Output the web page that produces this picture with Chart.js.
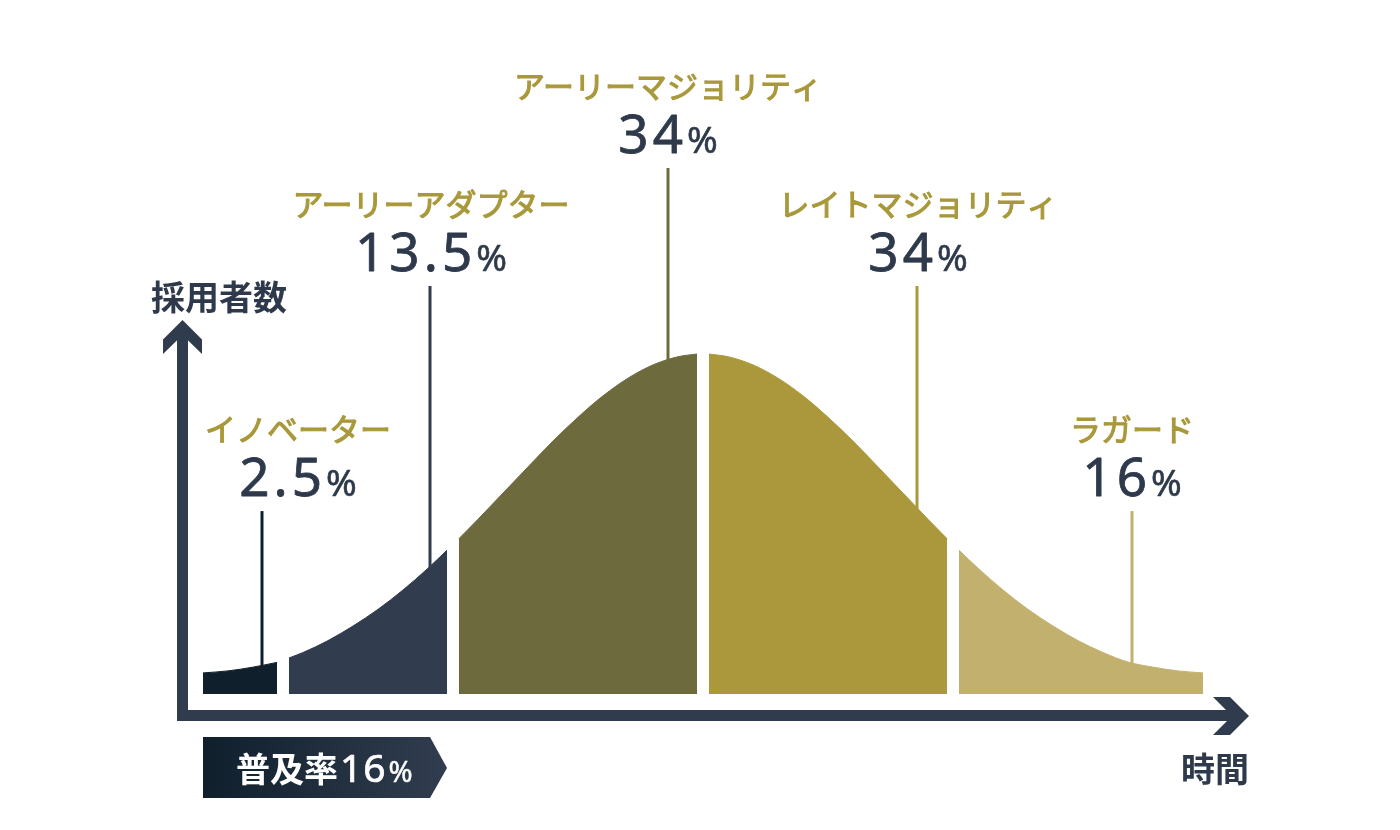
<!DOCTYPE html>
<html lang="ja">
<head>
<meta charset="utf-8">
<title>イノベーター理論</title>
<script src="https://cdn.jsdelivr.net/npm/chart.js@4.4.0/dist/chart.umd.min.js"></script>
<style>
  html, body { margin: 0; padding: 0; background: #fff; }
  #wrap { width: 1400px; height: 830px; }
</style>
</head>
<body>
<div id="wrap"><canvas id="curve" width="1400" height="830"></canvas></div>
<script>
// groups of adopters and their share
const categories = ['イノベーター', 'アーリーアダプター', 'アーリーマジョリティ', 'レイトマジョリティ', 'ラガード'];
const shares = ['2.5', '13.5', '34', '34', '16'];

// where each group starts / ends on the time axis (0 - 100)
const segmentStart = [0, 8.6, 25.6, 50.6, 75.6];
const segmentEnd = [7.4, 24.4, 49.4, 74.4, 100];

// curve, peak = 100
const timePoints = [
  0, 2.5, 5, 7.4,
  8.6, 10, 12.5, 15, 17.5, 20, 22.5, 24.4,
  25.6, 27.5, 30, 32.5, 35, 37.5, 40, 42.5, 45, 47.5, 49.4,
  50.6, 52.5, 55, 57.5, 60, 62.5, 65, 67.5, 70, 72.5, 74.4,
  75.6, 77.5, 80, 82.5, 85, 87.5, 90, 92.5, 95, 97.5, 100
];
const adopters = [
  6.2, 6.8, 7.9, 9.3,
  10.6, 12.2, 15.7, 20.0, 24.9, 30.6, 37.0, 42.3,
  45.7, 51.4, 59.1, 66.8, 74.4, 81.4, 87.7, 92.9, 96.8, 99.2, 100,
  100, 99.2, 96.8, 92.9, 87.7, 81.4, 74.4, 66.8, 59.1, 51.4, 45.7,
  42.3, 37.0, 30.6, 24.9, 20.0, 15.7, 12.2, 9.4, 7.9, 6.8, 6.2
];

// leader lines: x on the time axis, top in curve units
const leaderX = [5.9, 22.7, 46.5, 71.4, 92.9];
const leaderTop = [53.8, 120, 154.7, 120, 53.8];
const labelX = [9.5, 22.8, 46.5, 71.5, 92.9];

const fills = ['#0f1f2c', '#313d4f', '#6d6a3e', '#ab983c', '#c2b16e'];
const navy = '#2e3a4b';
const gold = '#a9993b';
const jpFont = '"Noto Sans CJK JP", "Noto Sans", sans-serif';
const numFont = '"Noto Sans", "DejaVu Sans", sans-serif';

function curveAt(x) {
  for (let i = 1; i < timePoints.length; i++) {
    if (x <= timePoints[i]) {
      const x0 = timePoints[i - 1], x1 = timePoints[i];
      const t = (x - x0) / (x1 - x0);
      return adopters[i - 1] + (adopters[i] - adopters[i - 1]) * t;
    }
  }
  return adopters[adopters.length - 1];
}

const datasets = categories.map((name, i) => {
  const pts = [];
  timePoints.forEach((x, k) => {
    if (x >= segmentStart[i] && x <= segmentEnd[i]) pts.push({ x: x, y: adopters[k] });
  });
  return {
    label: name,
    data: pts,
    backgroundColor: fills[i],
    borderColor: fills[i],
    borderWidth: 1,
    fill: 'origin',
    pointRadius: 0,
    cubicInterpolationMode: 'monotone'
  };
});

// regular weight plus a thin outline, reads like a medium weight
function mediumText(ctx, text, x, y, color, width) {
  ctx.fillStyle = color;
  ctx.strokeStyle = color;
  ctx.lineWidth = width;
  ctx.lineJoin = 'round';
  ctx.fillText(text, x, y);
  ctx.strokeText(text, x, y);
}

function drawValue(ctx, text, cx, baseY) {
  ctx.save();
  ctx.textBaseline = 'alphabetic';
  ctx.textAlign = 'left';
  ctx.letterSpacing = '4px';
  ctx.font = '400 53px ' + numFont;
  const w1 = ctx.measureText(text).width;
  ctx.letterSpacing = '0px';
  ctx.font = '400 37px ' + numFont;
  const w2 = ctx.measureText('%').width;
  const start = cx - (w1 + w2) / 2;
  ctx.fillStyle = navy;
  ctx.letterSpacing = '4px';
  ctx.font = '400 53px ' + numFont;
  mediumText(ctx, text, start, baseY, navy, 0.8);
  ctx.letterSpacing = '0px';
  ctx.font = '400 37px ' + numFont;
  mediumText(ctx, '%', start + w1, baseY, navy, 0.6);
  ctx.restore();
}

const curveDecor = {
  id: 'curveDecor',
  beforeDatasetsDraw(chart) {
    const { ctx, scales: { x, y } } = chart;
    ctx.save();
    ctx.lineWidth = 3;
    leaderX.forEach((lx, i) => {
      ctx.strokeStyle = fills[i];
      ctx.beginPath();
      ctx.moveTo(x.getPixelForValue(lx), y.getPixelForValue(leaderTop[i]));
      ctx.lineTo(x.getPixelForValue(lx), y.getPixelForValue(curveAt(lx) - 3));
      ctx.stroke();
    });
    ctx.restore();
  },
  afterDraw(chart) {
    const { ctx, scales: { x, y } } = chart;
    ctx.save();

    // axes
    ctx.fillStyle = '#303c4e';
    ctx.fillRect(177, 334, 11, 387);
    ctx.fillRect(177, 710, 1058, 11);
    ctx.beginPath();
    ctx.moveTo(182.5, 320);
    ctx.lineTo(202, 339.5);
    ctx.lineTo(202, 354);
    ctx.lineTo(182.5, 335);
    ctx.lineTo(163, 354);
    ctx.lineTo(163, 339.5);
    ctx.closePath();
    ctx.fill();
    ctx.beginPath();
    ctx.moveTo(1213, 697);
    ctx.lineTo(1230, 697);
    ctx.lineTo(1249, 716);
    ctx.lineTo(1230, 735);
    ctx.lineTo(1213, 735);
    ctx.lineTo(1232, 716);
    ctx.closePath();
    ctx.fill();

    // axis titles
    ctx.textBaseline = 'middle';
    ctx.font = '700 34px ' + jpFont;
    ctx.textAlign = 'left';
    ctx.fillStyle = navy;
    ctx.fillText('採用者数', 151, 297);
    ctx.textAlign = 'right';
    ctx.fillText('時間', 1249, 769);

    // group labels
    categories.forEach((name, i) => {
      const cx = x.getPixelForValue(labelX[i]);
      const top = y.getPixelForValue(leaderTop[i]);
      ctx.textAlign = 'center';
      ctx.textBaseline = 'middle';
      ctx.font = '400 31px ' + jpFont;
      mediumText(ctx, name, cx, top - 82, gold, 1.1);
      drawValue(ctx, shares[i], cx, top - 15);
    });

    // badge
    const g = ctx.createLinearGradient(203, 0, 447, 0);
    g.addColorStop(0, '#0f1f2c');
    g.addColorStop(1, '#313d4f');
    ctx.fillStyle = g;
    ctx.beginPath();
    ctx.moveTo(203, 737);
    ctx.lineTo(430, 737);
    ctx.lineTo(447, 768);
    ctx.lineTo(430, 798);
    ctx.lineTo(203, 798);
    ctx.closePath();
    ctx.fill();
    ctx.fillStyle = '#ffffff';
    ctx.textAlign = 'left';
    ctx.textBaseline = 'alphabetic';
    ctx.font = '700 34px ' + jpFont;
    ctx.fillText('普及率', 236, 782);
    const w0 = ctx.measureText('普及率').width;
    ctx.font = '400 39px ' + numFont;
    ctx.letterSpacing = '1px';
    mediumText(ctx, '16', 238 + w0, 782, '#ffffff', 0.7);
    const w1 = ctx.measureText('16').width;
    ctx.letterSpacing = '0px';
    ctx.font = '400 29px ' + numFont;
    mediumText(ctx, '%', 240 + w0 + w1, 782, '#ffffff', 0.5);

    ctx.restore();
  }
};

new Chart(document.getElementById('curve'), {
  type: 'line',
  data: { datasets: datasets },
  options: {
    responsive: false,
    animation: false,
    layout: { padding: { left: 203, right: 197, top: 14, bottom: 136 } },
    scales: {
      x: { type: 'linear', min: 0, max: 100, display: false },
      y: { min: 0, max: 200, display: false }
    },
    plugins: {
      legend: { display: false },
      tooltip: { enabled: false }
    }
  },
  plugins: [curveDecor]
});
</script>
</body>
</html>
